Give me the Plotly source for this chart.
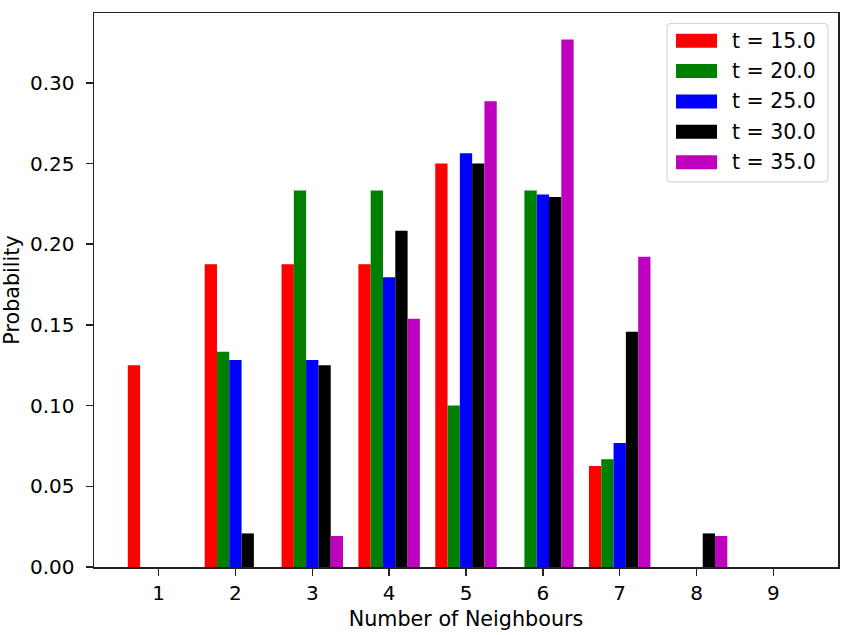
import plotly.graph_objects as go

neighbours = [1, 2, 3, 4, 5, 6, 7, 8, 9]
series_names = ["t = 15.0", "t = 20.0", "t = 25.0", "t = 30.0", "t = 35.0"]
series_colors = ["#ff0000", "#008000", "#0000ff", "#000000", "#bf00bf"]
t15 = [0.125, 0.1875, 0.1875, 0.1875, 0.25, 0.0, 0.0625, 0.0, 0.0]
t20 = [0.0, 0.1333, 0.2333, 0.2333, 0.1, 0.2333, 0.0667, 0.0, 0.0]
t25 = [0.0, 0.1282, 0.1282, 0.1795, 0.2564, 0.2308, 0.0769, 0.0, 0.0]
t30 = [0.0, 0.0208, 0.125, 0.2083, 0.25, 0.2292, 0.1458, 0.0208, 0.0]
t35 = [0.0, 0.0, 0.0192, 0.1538, 0.2885, 0.3269, 0.1923, 0.0192, 0.0]
y_ticks = [0.0, 0.05, 0.10, 0.15, 0.20, 0.25, 0.30]

series_values = [t15, t20, t25, t30, t35]

FONT = "DejaVu Sans"
FS = 20
TFS = 20.7

W, H = 851, 635
L, R, T, B = 94, 13, 13, 67.5
PL, PR, PT, PB = L, W - R, T, H - B

fig = go.Figure()
for name, color, vals in zip(series_names, series_colors, series_values):
    fig.add_trace(go.Bar(x=neighbours, y=vals, name=name,
                         marker=dict(color=color, line=dict(width=0)),
                         showlegend=False, hoverinfo="skip"))

ymax = max(max(v) for v in series_values) * 1.05

# custom legend (matplotlib-like), positioned in plot-area (paper) coordinates
def px(x):
    return (x - PL) / (PR - PL)
def py(y):
    return (PB - y) / (PB - PT)

shapes = []
annotations = []
x0, x1, y0, y1, r = 667, 828, 23.5, 182, 4
path = (f"M{px(x0+r)},{py(y0)} L{px(x1-r)},{py(y0)} Q{px(x1)},{py(y0)} {px(x1)},{py(y0+r)} "
        f"L{px(x1)},{py(y1-r)} Q{px(x1)},{py(y1)} {px(x1-r)},{py(y1)} "
        f"L{px(x0+r)},{py(y1)} Q{px(x0)},{py(y1)} {px(x0)},{py(y1-r)} "
        f"L{px(x0)},{py(y0+r)} Q{px(x0)},{py(y0)} {px(x0+r)},{py(y0)} Z")
shapes.append(dict(type="path", xref="paper", yref="paper", path=path,
                   line=dict(color="#d6d6d6", width=1.2), fillcolor="rgba(255,255,255,0.8)", layer="above"))
for i, (name, color) in enumerate(zip(series_names, series_colors)):
    cy = 40.7 + i * 30.4
    shapes.append(dict(type="rect", xref="paper", yref="paper",
                       x0=px(676), x1=px(717), y0=py(cy - 7), y1=py(cy + 7),
                       fillcolor=color, line=dict(width=0), layer="above"))
    annotations.append(dict(xref="paper", yref="paper", x=px(730), y=py(cy),
                            text=name, showarrow=False, xanchor="left", yanchor="middle",
                            font=dict(family=FONT, size=20.5, color="black")))

fig.update_layout(
    width=W, height=H,
    margin=dict(l=L, r=R, t=T, b=B, autoexpand=False),
    paper_bgcolor="white", plot_bgcolor="white",
    barmode="group", bargap=0.2, bargroupgap=0.0,
    font=dict(family=FONT, size=FS, color="black"),
    shapes=shapes, annotations=annotations,
    hovermode=False,
)
fig.update_xaxes(range=[0.16, 9.84], tickmode="array", tickvals=neighbours,
                 ticktext=[str(n) for n in neighbours], automargin=False,
                 showline=True, linecolor="#222", linewidth=1.5, mirror=True,
                 ticks="outside", ticklen=7, tickwidth=1.5, tickcolor="#222",
                 tickfont=dict(family=FONT, size=FS, color="black"), ticklabelstandoff=0,
                 showgrid=False, zeroline=False,
                 title=dict(text="Number of Neighbours", standoff=8,
                            font=dict(family=FONT, size=TFS, color="black")))
fig.update_yaxes(range=[0, ymax], tickmode="array", tickvals=y_ticks,
                 ticktext=[f"{v:.2f}" for v in y_ticks], automargin=False,
                 showline=True, linecolor="#222", linewidth=1.5, mirror=True,
                 ticks="outside", ticklen=7, tickwidth=1.5, tickcolor="#222",
                 tickfont=dict(family=FONT, size=FS, color="black"), ticklabelstandoff=7,
                 showgrid=False, zeroline=False,
                 title=dict(text="Probability", standoff=4,
                            font=dict(family=FONT, size=TFS, color="black")))

fig.write_html("out.html", config={"displayModeBar": False, "staticPlot": True},
               post_script="document.body.style.margin='0px';")
